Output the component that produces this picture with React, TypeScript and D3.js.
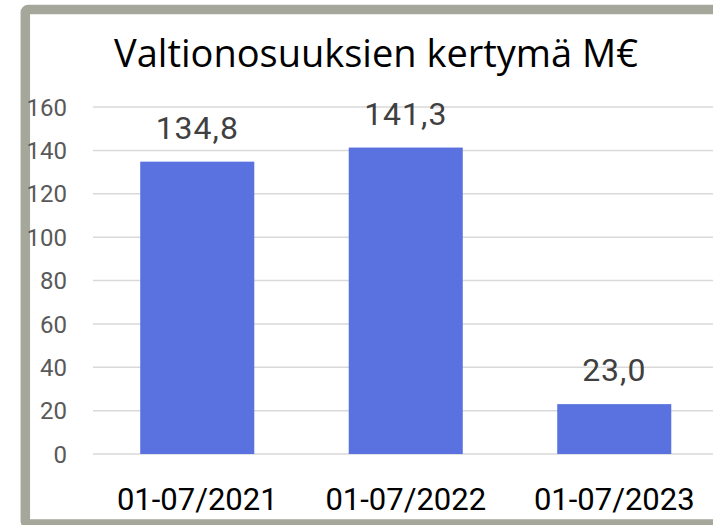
import React from "react";
import * as d3 from "d3";

const categories = ["01-07/2021", "01-07/2022", "01-07/2023"];
const values = [134.8, 141.3, 23.0];
const valueLabels = ["134,8", "141,3", "23,0"];
const yTicks = [0, 20, 40, 60, 80, 100, 120, 140, 160];
const title = "Valtionosuuksien kertymä M€";

export default function App() {
  const W = 713, H = 525;
  const x = d3.scaleBand<string>().domain(categories).range([93, 718.5]).paddingInner(0.453).paddingOuter(0.2265);
  const y = d3.scaleLinear().domain([0, 160]).range([454, 107]);
  const bw = x.bandwidth();
  return (
    <svg width={W} height={H} style={{ position: "absolute", left: 0, top: 0, background: "#fff" }}>
      <rect x={0} y={0} width={W} height={H} fill="#fff" />
      <rect x={25.3} y={9.5} width={740} height={514.5} rx={3} fill="#fff" stroke="#a6a79b" strokeWidth={9.5} />
      <text x={376} y={67} textAnchor="middle" fontFamily="'Open Sans', sans-serif" fontSize={38} fill="#000">{title}</text>
      {yTicks.map((t) => (
        <g key={t}>
          <line x1={93} x2={713} y1={y(t)} y2={y(t)} stroke="#d9d9d9" strokeWidth={1.5} />
          <text x={67} y={y(t)} dy="0.36em" textAnchor="end" fontFamily="Roboto, sans-serif" fontSize={24} fill="#595959">{t}</text>
        </g>
      ))}
      {categories.map((c, i) => (
        <g key={c}>
          <rect x={x(c)} y={y(values[i])} width={bw} height={y(0) - y(values[i])} fill="#5a72df" />
          <text x={(x(c) as number) + bw / 2} y={y(values[i]) - 23} textAnchor="middle" fontFamily="Roboto, sans-serif" fontSize={32} letterSpacing={1} fill="#404040">{valueLabels[i]}</text>
          <text x={(x(c) as number) + bw / 2} y={510} textAnchor="middle" fontFamily="Roboto, sans-serif" fontSize={31} fill="#000">{c}</text>
        </g>
      ))}
    </svg>
  );
}
